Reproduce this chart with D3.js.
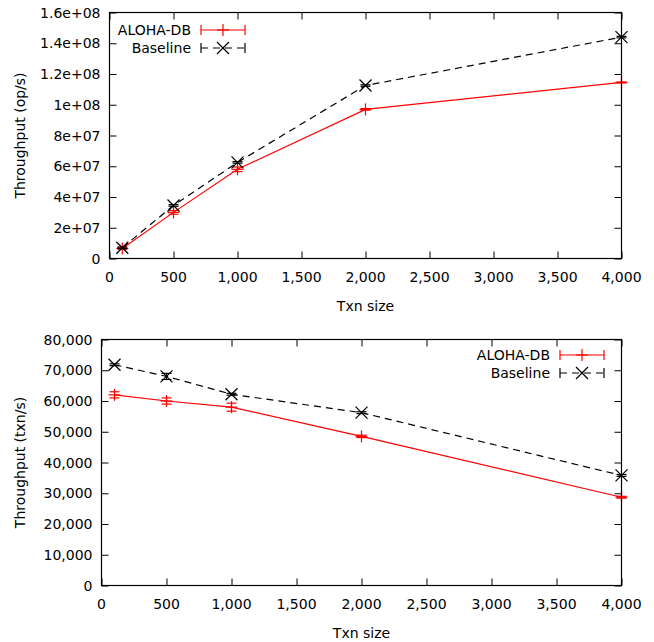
<!DOCTYPE html>
<html>
<head>
<meta charset="utf-8">
<script src="https://cdn.jsdelivr.net/npm/d3@7"></script>
<style>
body { margin: 0; background: #fff; }
text { font-family: "DejaVu Sans", sans-serif; font-size: 14px; fill: #000; }
</style>
</head>
<body>
<div id="chart"></div>
<script>
// data
var txnSizes = [100, 500, 1000, 2000, 4000];
var xTicks = [0, 500, 1000, 1500, 2000, 2500, 3000, 3500, 4000];

var opsAloha = [6.5e6, 3.0e7, 5.8e7, 9.7e7, 1.145e8];
var opsAlohaErr = [0.5e6, 1.2e6, 1.5e6, 0.5e6, 0.3e6];
var opsBase = [7.0e6, 3.45e7, 6.25e7, 1.125e8, 1.44e8];
var opsBaseErr = [0.5e6, 0.5e6, 0.5e6, 0.5e6, 0.5e6];
var opsTicks = [0, 2e7, 4e7, 6e7, 8e7, 1e8, 1.2e8, 1.4e8, 1.6e8];
var opsTickLabels = ["0", "2e+07", "4e+07", "6e+07", "8e+07", "1e+08", "1.2e+08", "1.4e+08", "1.6e+08"];

var txnAloha = [62000, 60000, 58000, 48500, 28700];
var txnAlohaErr = [1000, 1000, 1300, 400, 300];
var txnBase = [71800, 68000, 62200, 56200, 35800];
var txnBaseErr = [300, 1000, 300, 300, 300];
var txnTicks = [0, 10000, 20000, 30000, 40000, 50000, 60000, 70000, 80000];

var fmtComma = d3.format(",");

var svg = d3.select("#chart").append("svg")
	.attr("width", 654)
	.attr("height", 642);

function marker(g, type, cx, cy, color)
{
	var s = 6;
	if (type == "plus") {
		g.append("line").attr("x1", cx - s).attr("x2", cx + s).attr("y1", cy).attr("y2", cy);
		g.append("line").attr("x1", cx).attr("x2", cx).attr("y1", cy - s).attr("y2", cy + s);
	} else {
		g.append("line").attr("x1", cx - s).attr("x2", cx + s).attr("y1", cy - s).attr("y2", cy + s);
		g.append("line").attr("x1", cx - s).attr("x2", cx + s).attr("y1", cy + s).attr("y2", cy - s);
	}
	g.selectAll("line").attr("stroke", color).attr("stroke-width", 1.2);
}

function drawPanel(p)
{
	var g = svg.append("g");
	var x = d3.scaleLinear().domain([0, 4000]).range([p.left, p.right]);
	var y = d3.scaleLinear().domain([p.ymin, p.ymax]).range([p.bottom, p.top]);

	// ticks (inward, mirrored)
	var ax = [
		[d3.axisBottom(x).tickValues(xTicks), p.bottom],
		[d3.axisTop(x).tickValues(xTicks), p.top]
	];
	ax.forEach(function(a) {
		g.append("g").attr("transform", "translate(0," + a[1] + ")")
			.call(a[0].tickSize(-7).tickFormat(""))
			.call(function(s) { s.select(".domain").remove(); });
	});
	g.append("g").attr("transform", "translate(" + p.left + ",0)")
		.call(d3.axisLeft(y).tickValues(p.yTicks).tickSize(-7).tickFormat(""))
		.call(function(s) { s.select(".domain").remove(); });
	g.append("g").attr("transform", "translate(" + p.right + ",0)")
		.call(d3.axisRight(y).tickValues(p.yTicks).tickSize(-7).tickFormat(""))
		.call(function(s) { s.select(".domain").remove(); });
	g.selectAll(".tick line").attr("stroke", "#000").attr("stroke-width", 1);

	// tick labels
	g.selectAll(".xl").data(xTicks).enter().append("text")
		.attr("x", function(d) { return x(d); })
		.attr("y", p.bottom + 23)
		.attr("text-anchor", "middle")
		.text(function(d) { return fmtComma(d); });
	g.selectAll(".yl").data(p.yTicks).enter().append("text")
		.attr("x", p.left - 9)
		.attr("y", function(d) { return y(d) + 5; })
		.attr("text-anchor", "end")
		.text(function(d, i) { return p.yLabels[i]; });

	// axis titles
	g.append("text")
		.attr("x", (p.left + p.right) / 2)
		.attr("y", p.bottom + 52)
		.attr("text-anchor", "middle")
		.text("Txn size");
	g.append("text")
		.attr("transform", "translate(25," + ((p.top + p.bottom) / 2) + ") rotate(-90)")
		.attr("text-anchor", "middle")
		.text(p.yTitle);

	// series
	p.series.forEach(function(s) {
		var pts = txnSizes.map(function(d, i) { return [d, s.values[i], s.errs[i]]; });
		g.append("path")
			.datum(pts)
			.attr("fill", "none")
			.attr("stroke", s.color)
			.attr("stroke-width", 1.2)
			.attr("stroke-dasharray", s.dash)
			.attr("d", d3.line().x(function(d) { return x(d[0]); }).y(function(d) { return y(d[1]); }));
		pts.forEach(function(d) {
			var cx = x(d[0]), y0 = y(d[1] - d[2]), y1 = y(d[1] + d[2]);
			var eb = g.append("g").attr("stroke", s.color).attr("stroke-width", 1.2);
			eb.append("line").attr("x1", cx).attr("x2", cx).attr("y1", y0).attr("y2", y1);
			eb.append("line").attr("x1", cx - 5).attr("x2", cx + 5).attr("y1", y0).attr("y2", y0);
			eb.append("line").attr("x1", cx - 5).attr("x2", cx + 5).attr("y1", y1).attr("y2", y1);
			marker(g.append("g"), s.marker, cx, y(d[1]), s.color);
		});
	});

	// legend
	p.series.forEach(function(s, i) {
		var ly = p.legendY + i * 18;
		var lx = p.legendX;
		g.append("text")
			.attr("x", lx)
			.attr("y", ly + 5)
			.attr("text-anchor", "end")
			.text(s.name);
		var lg = g.append("g").attr("stroke", s.color).attr("stroke-width", 1.2);
		lg.append("line").attr("x1", lx + 10).attr("x2", lx + 54).attr("y1", ly).attr("y2", ly)
			.attr("stroke-dasharray", s.dash);
		lg.append("line").attr("x1", lx + 10).attr("x2", lx + 10).attr("y1", ly - 5).attr("y2", ly + 5);
		lg.append("line").attr("x1", lx + 54).attr("x2", lx + 54).attr("y1", ly - 5).attr("y2", ly + 5);
		marker(g.append("g"), s.marker, lx + 32, ly, s.color);
	});

	// frame
	g.append("rect")
		.attr("x", p.left).attr("y", p.top)
		.attr("width", p.right - p.left).attr("height", p.bottom - p.top)
		.attr("fill", "none").attr("stroke", "#000").attr("stroke-width", 1.2);
}

drawPanel({
	left: 109.5, right: 621.5, top: 12.5, bottom: 258.5,
	ymin: 0, ymax: 1.6e8,
	yTicks: opsTicks, yLabels: opsTickLabels,
	yTitle: "Throughput (op/s)",
	legendX: 191, legendY: 30,
	series: [
		{ name: "ALOHA-DB", values: opsAloha, errs: opsAlohaErr, color: "#ff0000", dash: null, marker: "plus" },
		{ name: "Baseline", values: opsBase, errs: opsBaseErr, color: "#000000", dash: "7,5", marker: "cross" }
	]
});

drawPanel({
	left: 101.5, right: 621.5, top: 339.5, bottom: 585.5,
	ymin: 0, ymax: 80000,
	yTicks: txnTicks, yLabels: txnTicks.map(fmtComma),
	yTitle: "Throughput (txn/s)",
	legendX: 550, legendY: 355,
	series: [
		{ name: "ALOHA-DB", values: txnAloha, errs: txnAlohaErr, color: "#ff0000", dash: null, marker: "plus" },
		{ name: "Baseline", values: txnBase, errs: txnBaseErr, color: "#000000", dash: "7,5", marker: "cross" }
	]
});
</script>
</body>
</html>
